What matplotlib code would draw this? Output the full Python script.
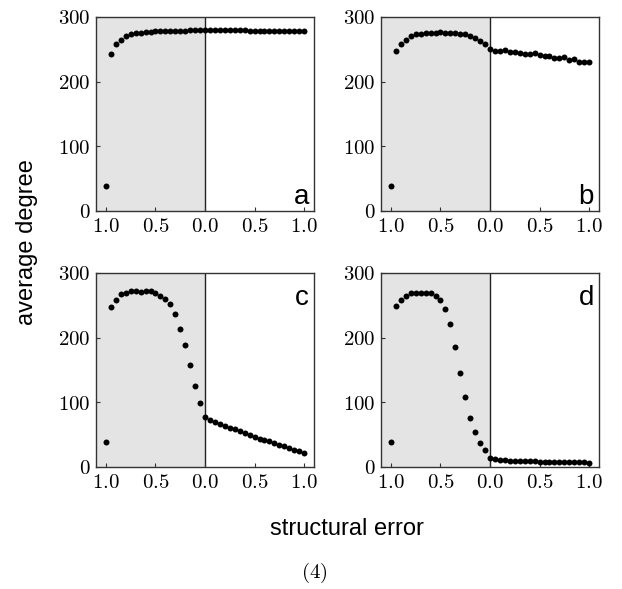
import numpy as np
import matplotlib
matplotlib.use("Agg")
import matplotlib.pyplot as plt
from matplotlib.ticker import FuncFormatter

plt.rcParams['mathtext.fontset'] = 'cm'
plt.rcParams['font.family'] = ['Liberation Sans', 'DejaVu Sans']

# structural error, left half (shaded) then right half
x = np.round(np.arange(-1.0, 1.0001, 0.05), 2)

deg_a = [38, 243, 259, 265, 270, 273, 275, 276, 277, 277.5, 278, 278, 278.5, 278.5,
         279, 279, 279, 279.5, 279.5, 279.5, 279.5,
         279.5, 279.5, 279.5, 279.5, 279.5, 279.5, 279.5, 279.5, 279, 279, 279,
         279, 279, 279, 279, 278.5, 278.5, 278.5, 278.5, 278.5]
deg_b = [38, 247.6, 258, 265, 271, 273, 274, 275, 276, 276, 276.5, 276, 275.5, 275,
         273.5, 273, 271, 267.5, 263.5, 258, 250.6,
         247.6, 248, 249.6, 246, 246, 244, 243.5, 243.5, 245, 242, 240, 240, 237,
         237, 238, 233.6, 235.7, 231, 230, 230]
deg_c = [38.5, 247.6, 259, 267.6, 268.6, 271.7, 272, 271, 271.7, 271.7, 269, 265, 260,
         251.7, 236, 214, 188, 158, 126, 98.6, 77,
         73, 70, 67, 63, 61, 59, 55.5, 52, 50, 47, 44, 42, 39.5, 36.5, 34, 32, 29,
         27, 24.7, 21.6]
deg_d = [38, 249, 258, 264, 268.6, 269, 269, 269, 269, 264.5, 259, 244.5, 221, 185,
         146, 108, 76, 54.5, 37, 26, 14.4,
         12.8, 11.5, 10.5, 10, 9.5, 9.2, 9, 8.8, 8.6, 8.4, 8.2, 8, 7.9, 7.8, 7.6,
         7.5, 7.3, 7.1, 7, 6.8]

panels = ['a', 'b', 'c', 'd']
series = [deg_a, deg_b, deg_c, deg_d]

fig = plt.figure(figsize=(6.22, 5.89), dpi=100)
W, H = 622, 589
boxes = [(96, 17), (381, 17), (96, 273), (381, 273)]
aw, ah = 218, 194

tick_fmt = FuncFormatter(lambda v, p: r'$%.1f$' % abs(v))
ytick_fmt = FuncFormatter(lambda v, p: r'$%d$' % v)

for (left, top), name, y in zip(boxes, panels, series):
    ax = fig.add_axes([left / W, 1 - (top + ah) / H, aw / W, ah / H])
    ax.axvspan(-1.1, 0, color='#e4e4e4', zorder=0, lw=0)
    ax.axvline(0, color='#222222', lw=1.0, zorder=1)
    ax.plot(x, y, 'o', color='black', ms=4.3, mec='none', zorder=3)
    ax.set_xlim(-1.1, 1.1)
    ax.set_ylim(0, 300)
    ax.set_xticks([-1, -0.5, 0, 0.5, 1])
    ax.set_yticks([0, 100, 200, 300])
    ax.xaxis.set_major_formatter(tick_fmt)
    ax.yaxis.set_major_formatter(ytick_fmt)
    ax.tick_params(direction='in', length=3, width=0.8, labelsize=15,
                   pad=4, color='#333333')
    for s in ax.spines.values():
        s.set_color('#333333')
        s.set_linewidth(1.0)
    if name in ('a', 'b'):
        ax.text(0.977, 0.036, name, transform=ax.transAxes, ha='right',
                va='baseline', fontsize=20)
    else:
        ax.text(0.977, 0.835, name, transform=ax.transAxes, ha='right',
                va='baseline', fontsize=20)

fig.text(27 / W, 1 - 242 / H, 'average degree', rotation=90, ha='center',
         va='center', fontsize=17)
fig.text(347 / W, 1 - 529 / H, 'structural error', ha='center', va='center',
         fontsize=17)
fig.text(314 / W, 1 - 573 / H, r'$(4)$', ha='center', va='center', fontsize=15)

fig.savefig('out.png', dpi=100)
